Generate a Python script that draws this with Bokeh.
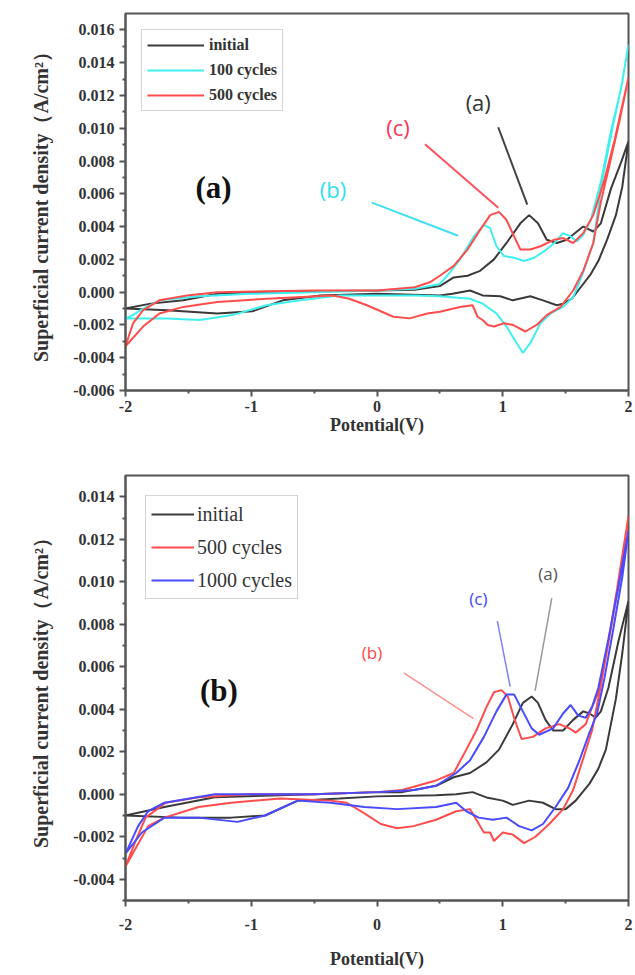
from bokeh.plotting import figure
from bokeh.layouts import column
from bokeh.models import FixedTicker, PrintfTickFormatter, Label
from bokeh.embed import file_html
from bokeh.resources import INLINE

SERIF = "Liberation Serif"
SANS = "Open Sans"

# ---------------- ticks ----------------
x_ticks = [-2, -1, 0, 1, 2]
x_minor = [-1.5, -0.5, 0.5, 1.5]
ya_ticks = [-0.006, -0.004, -0.002, 0.0, 0.002, 0.004, 0.006, 0.008, 0.010, 0.012, 0.014, 0.016]
ya_minor = [-0.005, -0.003, -0.001, 0.001, 0.003, 0.005, 0.007, 0.009, 0.011, 0.013, 0.015]
yb_ticks = [-0.004, -0.002, 0.0, 0.002, 0.004, 0.006, 0.008, 0.010, 0.012, 0.014]
yb_minor = [-0.005, -0.003, -0.001, 0.001, 0.003, 0.005, 0.007, 0.009, 0.011, 0.013]

# ---------------- data: panel (a) ----------------
a_init_x = [-2.0, -1.8, -1.54, -1.27, -1.0, -0.5, 0.0, 0.3, 0.50, 0.61, 0.72, 0.82, 0.93, 1.03,
            1.14, 1.21, 1.28, 1.35, 1.43, 1.51, 1.59, 1.64, 1.72, 1.78, 1.86, 1.94, 2.0,
            1.95, 1.90, 1.83, 1.76, 1.70, 1.62, 1.55, 1.48, 1.43, 1.32, 1.22, 1.08, 0.98, 0.84,
            0.74, 0.6, 0.5, 0.0, -0.45, -0.75, -0.99, -1.27, -1.67, -2.0]
a_init_y = [-0.001, -0.0007, -0.0005, -0.0001, 0.0, 0.00005, 0.0001, 0.00015, 0.00037, 0.0009,
            0.001, 0.0013, 0.002, 0.003, 0.0042, 0.0047, 0.0042, 0.0032, 0.003, 0.0032, 0.0037,
            0.004, 0.0037, 0.0042, 0.0063, 0.0079, 0.0092,
            0.0064, 0.0047, 0.0032, 0.0019, 0.0011, 0.0003, -0.0004, -0.0007, -0.0008, -0.0005,
            -0.00025, -0.0005, -0.00025, -0.0002, 0.0001, -0.0001, -0.0002, -0.0001, -0.0002,
            -0.0005, -0.00117, -0.0013, -0.0011, -0.001]

a_100_x = [-2.0, -1.94, -1.88, -1.73, -1.41, -1.01, -0.5, 0.0, 0.3, 0.5, 0.58, 0.66, 0.77, 0.85,
           0.90, 0.95, 1.01, 1.09, 1.17, 1.25, 1.33, 1.41, 1.48, 1.54, 1.59, 1.64, 1.70, 1.78,
           1.86, 1.94, 2.0,
           1.95, 1.87, 1.79, 1.72, 1.64, 1.56, 1.48, 1.38, 1.30, 1.22, 1.16, 1.11, 1.03, 0.95,
           0.84, 0.74, 0.5, 0.3, -0.3, -0.61, -0.88, -1.15, -1.41, -1.67, -2.0]
a_100_y = [-0.0016, -0.0014, -0.0011, -0.0005, -0.00025, -0.0001, 0.0, 0.0001, 0.0002, 0.0005,
           0.0012, 0.002, 0.0034, 0.0041, 0.0039, 0.0028, 0.0022, 0.0021, 0.0019, 0.0021,
           0.0025, 0.003, 0.0036, 0.0034, 0.0031, 0.0035, 0.0044, 0.0067, 0.0098, 0.0124, 0.0151,
           0.0128, 0.0099, 0.0068, 0.003, 0.0012, -0.0003, -0.0009, -0.0013, -0.0019, -0.0031,
           -0.0037, -0.0031, -0.0021, -0.0013, -0.0007, -0.0004, -0.00025, -0.0002, -0.0002,
           -0.0005, -0.0008, -0.0014, -0.0017, -0.0016, -0.0016]

a_500_x = [-2.0, -1.94, -1.86, -1.73, -1.51, -1.27, -0.5, 0.0, 0.3, 0.42, 0.5, 0.61, 0.72, 0.82,
           0.90, 0.97, 1.03, 1.09, 1.14, 1.22, 1.30, 1.41, 1.48, 1.56, 1.64, 1.72, 1.81, 1.89, 2.0,
           1.93, 1.85, 1.78, 1.72, 1.64, 1.56, 1.46, 1.35, 1.27, 1.18, 1.08, 1.01, 0.93, 0.88,
           0.84, 0.80, 0.76, 0.66, 0.5, 0.40, 0.26, 0.13, -0.08, -0.22, -0.35, -0.88, -1.27,
           -1.54, -1.73, -1.86, -2.0]
a_500_y = [-0.0033, -0.0019, -0.0011, -0.0005, -0.0002, 0.0, 0.0001, 0.0001, 0.0003, 0.0006,
           0.001, 0.0016, 0.0026, 0.0038, 0.0047, 0.0049, 0.0044, 0.0034, 0.0026, 0.0026, 0.0028,
           0.0032, 0.0033, 0.003, 0.0036, 0.0047, 0.0069, 0.0093, 0.0131,
           0.0105, 0.0078, 0.0055, 0.003, 0.0013, 0.0001, -0.0009, -0.0014, -0.002, -0.0024,
           -0.002, -0.0019, -0.0021, -0.002, -0.0017, -0.0015, -0.0008, -0.0009, -0.0012,
           -0.0013, -0.0016, -0.0015, -0.0008, -0.0004, -0.0002, -0.0004, -0.0006, -0.0009,
           -0.0013, -0.0021, -0.0033]

# ---------------- data: panel (b) ----------------
b_init_x = [-2.0, -1.69, -1.29, -0.5, 0.0, 0.2, 0.47, 0.61, 0.74, 0.87, 0.97, 1.08, 1.16, 1.23,
            1.28, 1.34, 1.40, 1.48, 1.56, 1.64, 1.69, 1.74, 1.78, 1.84, 1.92, 2.0,
            1.95, 1.90, 1.82, 1.76, 1.69, 1.58, 1.5, 1.42, 1.32, 1.21, 1.08, 1.0, 0.87, 0.76,
            0.63, 0.47, 0.0, -0.3, -0.63, -0.89, -1.16, -1.56, -2.0]
b_init_y = [-0.001, -0.0006, -0.00014, 0.0, 0.0001, 0.0001, 0.0004, 0.0008, 0.001, 0.0015,
            0.0021, 0.0033, 0.0043, 0.0046, 0.0043, 0.0035, 0.003, 0.003, 0.0035, 0.0039,
            0.0038, 0.0036, 0.0039, 0.005, 0.0072, 0.0091,
            0.0066, 0.0045, 0.0021, 0.0012, 0.0005, -0.0003, -0.0007, -0.0007, -0.0004, -0.0003,
            -0.0005, -0.0003, -0.00015, 0.0001, 0.0, -0.00005, -0.0001, -0.0002, -0.0003,
            -0.001, -0.0011, -0.0011, -0.001]

b_500_x = [-2.0, -1.92, -1.84, -1.68, -1.42, -1.0, -0.5, 0.0, 0.2, 0.47, 0.61, 0.71, 0.79, 0.87,
           0.93, 0.99, 1.04, 1.09, 1.15, 1.24, 1.34, 1.45, 1.53, 1.58, 1.66, 1.71, 1.76, 1.83,
           1.91, 2.0,
           1.94, 1.86, 1.78, 1.71, 1.63, 1.56, 1.48, 1.37, 1.26, 1.17, 1.08, 1.0, 0.93, 0.90,
           0.85, 0.79, 0.74, 0.63, 0.47, 0.29, 0.16, 0.03, -0.1, -0.24, -0.37, -0.77, -1.16,
           -1.42, -1.69, -1.82, -2.0]
b_500_y = [-0.0034, -0.0022, -0.0011, -0.0004, -0.00014, 0.0, 0.0, 0.0001, 0.0002, 0.00065,
           0.001, 0.0021, 0.003, 0.0041, 0.0048, 0.0049, 0.0046, 0.0036, 0.0026, 0.0027, 0.0031,
           0.0033, 0.0031, 0.0029, 0.0033, 0.0041, 0.0048, 0.0068, 0.0097, 0.0131,
           0.0105, 0.0078, 0.0051, 0.003, 0.0015, 0.0002, -0.0007, -0.0014, -0.002, -0.0023,
           -0.0019, -0.0018, -0.0022, -0.0018, -0.0018, -0.0012, -0.0007, -0.0008, -0.0012,
           -0.0015, -0.0016, -0.0014, -0.0009, -0.0004, -0.0003, -0.0002, -0.0004, -0.0006,
           -0.0011, -0.0015, -0.0034]

b_1000_x = [-2.0, -1.90, -1.82, -1.69, -1.29, -0.5, 0.0, 0.3, 0.47, 0.63, 0.74, 0.85, 0.95, 1.03,
            1.09, 1.16, 1.23, 1.29, 1.40, 1.48, 1.54, 1.60, 1.66, 1.71, 1.76, 1.84, 1.92, 2.0,
            1.95, 1.88, 1.81, 1.75, 1.69, 1.61, 1.52, 1.42, 1.32, 1.23, 1.13, 1.03, 0.92, 0.81,
            0.71, 0.63, 0.47, 0.16, -0.1, -0.37, -0.63, -0.89, -1.11, -1.42, -1.69, -1.87, -2.0]
b_1000_y = [-0.0028, -0.0015, -0.0008, -0.0004, 0.0, 0.0, 0.0001, 0.0002, 0.0004, 0.001, 0.0016,
            0.0027, 0.0039, 0.0047, 0.0047, 0.0039, 0.0031, 0.0028, 0.0031, 0.0038, 0.0042,
            0.0037, 0.0036, 0.0041, 0.005, 0.0073, 0.0098, 0.0124,
            0.0102, 0.0078, 0.0055, 0.0038, 0.0029, 0.0016, 0.0003, -0.0006, -0.0014, -0.0017,
            -0.0015, -0.0011, -0.0012, -0.0011, -0.0008, -0.0004, -0.0006, -0.0007, -0.0006,
            -0.0004, -0.0003, -0.001, -0.0013, -0.0011, -0.0011, -0.0018, -0.0028]

C_INIT = "#3a3a3a"
C_CYAN = "#3ff0f0"
C_RED = "#ff4d4d"
C_BLUE = "#4a4aff"


def make_fig(height, top, bottom, right, y_range, yticks, yminor, tick_standoff, label_standoff):
    p = figure(width=635, height=height, x_range=(-2, 2), y_range=y_range,
               output_backend="svg", toolbar_location=None,
               min_border_left=125, min_border_right=right,
               min_border_top=top, min_border_bottom=bottom)
    p.grid.visible = False
    p.outline_line_color = "#555555"
    p.outline_line_width = 2
    p.xaxis.ticker = FixedTicker(ticks=x_ticks, minor_ticks=x_minor)
    p.xaxis.formatter = PrintfTickFormatter(format="%d")
    p.yaxis.ticker = FixedTicker(ticks=yticks, minor_ticks=yminor)
    p.yaxis.formatter = PrintfTickFormatter(format="%.3f")
    for ax in (p.xaxis, p.yaxis):
        ax.axis_line_color = "#555555"
        ax.axis_line_width = 2
        ax.major_tick_line_color = "#555555"
        ax.major_tick_line_width = 2
        ax.major_tick_out = 6
        ax.major_tick_in = 0
        ax.minor_tick_line_color = "#555555"
        ax.minor_tick_line_width = 2
        ax.minor_tick_out = 3
        ax.minor_tick_in = 0
        ax.major_label_text_font = SERIF
        ax.major_label_text_font_style = "bold"
        ax.major_label_text_font_size = "16px"
        ax.major_label_text_color = "#333333"
        ax.axis_label_text_font = SERIF
        ax.axis_label_text_font_style = "bold"
        ax.axis_label_text_color = "#333333"
    p.xaxis.axis_label = "Potential(V)"
    p.xaxis.axis_label_text_font_size = "18px"
    p.xaxis.major_label_standoff = tick_standoff
    p.xaxis.axis_label_standoff = label_standoff
    p.yaxis.axis_label = "Superficial current density（A/cm²）"
    p.yaxis.axis_label_text_font_size = "20px"
    p.yaxis.major_label_standoff = 5
    p.yaxis.axis_label_standoff = 18
    return p


# ---------------- panel (a) ----------------
p1 = make_fig(460, 13, 70, 7, (-0.006, 0.017), ya_ticks, ya_minor, 4, 0)
p1.line(a_init_x, a_init_y, line_color=C_INIT, line_width=2, legend_label="initial")
p1.line(a_100_x, a_100_y, line_color=C_CYAN, line_width=2, legend_label="100 cycles")
p1.line(a_500_x, a_500_y, line_color=C_RED, line_width=2, legend_label="500 cycles")

p1.legend.location = "top_left"
p1.legend.margin = 16
p1.legend.padding = 5
p1.legend.spacing = 5
p1.legend.label_height = 20
p1.legend.glyph_height = 20
p1.legend.glyph_width = 57
p1.legend.label_standoff = 5
p1.legend.label_text_font = SERIF
p1.legend.label_text_font_style = "bold"
p1.legend.label_text_font_size = "16px"
p1.legend.label_text_color = "#333333"
p1.legend.border_line_color = "#aaaaaa"
p1.legend.border_line_width = 1.5
p1.legend.background_fill_alpha = 1.0

p1.add_layout(Label(x=-1.30, y=0.0064, text="(a)", text_font=SERIF, text_font_style="bold",
                    text_font_size="31px", text_color="#111111",
                    text_align="center", text_baseline="middle"))
p1.line([0.964, 1.195], [0.01006, 0.00534], line_color="#444444", line_width=2)
p1.line([0.382, 0.964], [0.00902, 0.00515], line_color="#ff5060", line_width=2)
p1.line([-0.04, 0.645], [0.00546, 0.00344], line_color="#40e0f0", line_width=2)
for lx, ly, lt, lc in [(0.805, 0.0116, "(a)", "#333333"),
                       (0.167, 0.0101, "(c)", "#ff3355"),
                       (-0.35, 0.0063, "(b)", "#33e0f0")]:
    p1.add_layout(Label(x=lx, y=ly, text=lt, text_font=SANS, text_font_size="22px",
                        text_color=lc, text_align="center", text_baseline="middle"))

# ---------------- panel (b) ----------------
p2 = make_fig(515, 15, 75, 2, (-0.005, 0.015), yb_ticks, yb_minor, 12, 16)
p2.line(b_init_x, b_init_y, line_color=C_INIT, line_width=2, legend_label="initial")
p2.line(b_500_x, b_500_y, line_color=C_RED, line_width=2, legend_label="500 cycles")
p2.line(b_1000_x, b_1000_y, line_color=C_BLUE, line_width=2, legend_label="1000 cycles")

p2.legend.location = "top_left"
p2.legend.margin = 20
p2.legend.padding = 5
p2.legend.spacing = 7
p2.legend.label_height = 26
p2.legend.glyph_height = 26
p2.legend.glyph_width = 43
p2.legend.label_standoff = 3
p2.legend.label_text_font = SERIF
p2.legend.label_text_font_size = "20px"
p2.legend.label_text_color = "#333333"
p2.legend.border_line_color = "#aaaaaa"
p2.legend.border_line_width = 1.5
p2.legend.background_fill_alpha = 1.0

p2.add_layout(Label(x=-1.257, y=0.0049, text="(b)", text_font=SERIF, text_font_style="bold",
                    text_font_size="31px", text_color="#111111",
                    text_align="center", text_baseline="middle"))
p2.line([1.39, 1.257], [0.00923, 0.00487], line_color="#999999", line_width=1.5)
p2.line([0.957, 1.059], [0.00815, 0.00506], line_color="#8080ff", line_width=1.5)
p2.line([0.213, 0.767], [0.00571, 0.00356], line_color="#ff9090", line_width=1.5)
for lx, ly, lt, lc in [(1.36, 0.0104, "(a)", "#555555"),
                       (0.806, 0.0092, "(c)", "#4444ff"),
                       (-0.04, 0.00665, "(b)", "#ff4444")]:
    p2.add_layout(Label(x=lx, y=ly, text=lt, text_font=SANS, text_font_size="17px",
                        text_color=lc, text_align="center", text_baseline="middle"))

layout = column(p1, p2, spacing=0)
open("out.html", "w").write(file_html(layout, INLINE))
